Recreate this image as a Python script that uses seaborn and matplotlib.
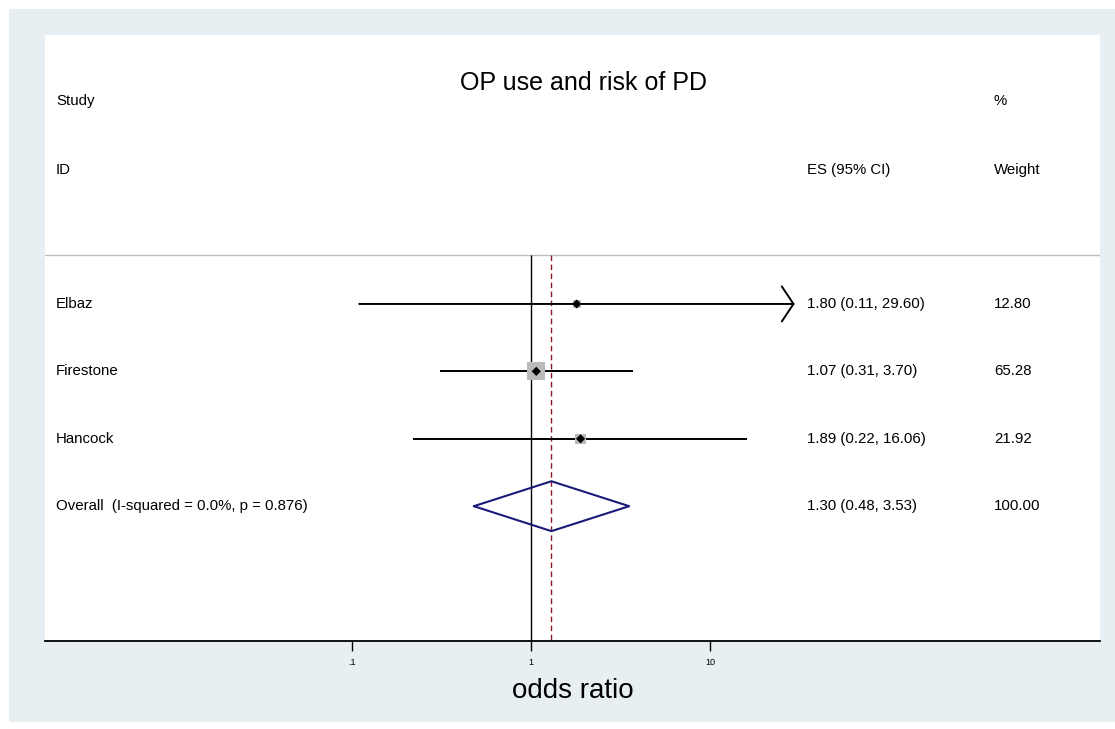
import numpy as np
import pandas as pd
import matplotlib
matplotlib.use("Agg")
import matplotlib.pyplot as plt
import matplotlib.transforms as mtrans
from matplotlib.patches import Rectangle
import seaborn as sns

# %% veriler
studies = ["Elbaz", "Firestone", "Hancock"]
es = [1.80, 1.07, 1.89]
lo = [0.11, 0.31, 0.22]
hi = [29.60, 3.70, 16.06]
weight = [12.80, 65.28, 21.92]
clipped = [True, False, False]

overall_label = "Overall  (I-squared = 0.0%, p = 0.876)"
overall_es, overall_lo, overall_hi = 1.30, 0.48, 3.53

tick_vals = [0.1, 1, 10]
tick_labels = [".1", "1", "10"]

veri = pd.DataFrame({"study": studies, "es": es, "lo": lo, "hi": hi,
                     "weight": weight, "row": [1, 2, 3]})

# %% tema
sns.set_style("white")
plt.rcParams["font.family"] = ["Liberation Sans", "DejaVu Sans"]
plt.rcParams["text.color"] = "black"
plt.rcParams["axes.labelcolor"] = "black"

fig = plt.figure(figsize=(11.15, 7.29), dpi=100, facecolor="white")
W, H = 1115, 729
fig.patches.append(Rectangle((9 / W, (H - 722) / H), (W - 9) / W, (722 - 9) / H,
                             transform=fig.transFigure, facecolor="#E8EFF2",
                             edgecolor="none", zorder=-10))
ax = fig.add_axes([45 / W, (H - 641) / H, (1100 - 45) / W, (641 - 35) / H])
ax.set_facecolor("white")

ax.set_xscale("log")
ax.set_xlim(10 ** (-486 / 179.2), 10 ** (569 / 179.2))
ax.set_ylim(6.0, -2.99)

# %% referans çizgileri
ax.axhline(0.27, color="#BDBDBD", lw=1)
ax.vlines(1, 0.27, 6.0, color="black", lw=1)
ax.vlines(overall_es, 0.27, 6.0, color="#8B1A2A", lw=1, linestyles=(0, (4, 2.5)))

# %% güven aralıkları
for i, r in veri.iterrows():
    if clipped[i]:
        ax.annotate("", xy=(r["hi"], r["row"]), xytext=(r["lo"], r["row"]),
                    arrowprops=dict(arrowstyle="->,head_length=0.6,head_width=0.9",
                                    lw=1.4, color="black", shrinkA=0, shrinkB=0,
                                    mutation_scale=14))
    else:
        ax.hlines(r["row"], r["lo"], r["hi"], color="black", lw=1.4)

# ağırlık kareleri
sns.scatterplot(data=veri, x="es", y="row", size="weight", sizes=(0, 259),
                size_norm=(0, 100), marker="s", color="#BBBBBB", edgecolor="none",
                legend=False, ax=ax, zorder=3)
sns.scatterplot(data=veri, x="es", y="row", marker="D", color="black", s=22,
                edgecolor="none", legend=False, ax=ax, zorder=4)

# overall elmas
yo, h = 4, 0.37
ax.plot([overall_lo, overall_es, overall_hi, overall_es, overall_lo],
        [yo, yo - h, yo, yo + h, yo], color="#1A1A78", lw=1.5, zorder=4)

# %% metinler
tr = mtrans.blended_transform_factory(ax.transAxes, ax.transData)
x_study, x_es, x_w = (56 - 45) / 1055, (807 - 45) / 1055, (994 - 45) / 1055
fs = 10.8
ax.text((584 - 45) / 1055, -2.28, "OP use and risk of PD", transform=tr,
        ha="center", va="center", fontsize=18)
ax.text(x_study, -2.01, "Study", transform=tr, va="center", fontsize=fs)
ax.text(x_w, -2.01, "%", transform=tr, va="center", fontsize=fs)
ax.text(x_study, -0.99, "ID", transform=tr, va="center", fontsize=fs)
ax.text(x_es, -0.99, "ES (95% CI)", transform=tr, va="center", fontsize=fs)
ax.text(x_w, -0.99, "Weight", transform=tr, va="center", fontsize=fs)

for i, r in veri.iterrows():
    ax.text(x_study, r["row"], r["study"], transform=tr, va="center", fontsize=fs)
    ax.text(x_es, r["row"], f"{r['es']:.2f} ({r['lo']:.2f}, {r['hi']:.2f})",
            transform=tr, va="center", fontsize=fs)
    ax.text(x_w, r["row"], f"{r['weight']:.2f}", transform=tr, va="center", fontsize=fs)

ax.text(x_study, 4, overall_label, transform=tr, va="center", fontsize=fs)
ax.text(x_es, 4, f"{overall_es:.2f} ({overall_lo:.2f}, {overall_hi:.2f})",
        transform=tr, va="center", fontsize=fs)
ax.text(x_w, 4, "100.00", transform=tr, va="center", fontsize=fs)

# %% eksenler
for s in ["top", "right", "left"]:
    ax.spines[s].set_visible(False)
ax.spines["bottom"].set_color("black")
ax.spines["bottom"].set_linewidth(1.3)
ax.set_yticks([])
ax.set_ylabel("")
ax.minorticks_off()
ax.set_xticks(tick_vals)
ax.set_xticklabels(tick_labels)
ax.tick_params(axis="x", direction="out", length=7, width=1, pad=5,
               labelsize=6.5, bottom=True, colors="black")
ax.set_xlabel("odds ratio", fontsize=20, labelpad=8, color="black")

fig.savefig("out.png", dpi=100, facecolor=fig.get_facecolor())
